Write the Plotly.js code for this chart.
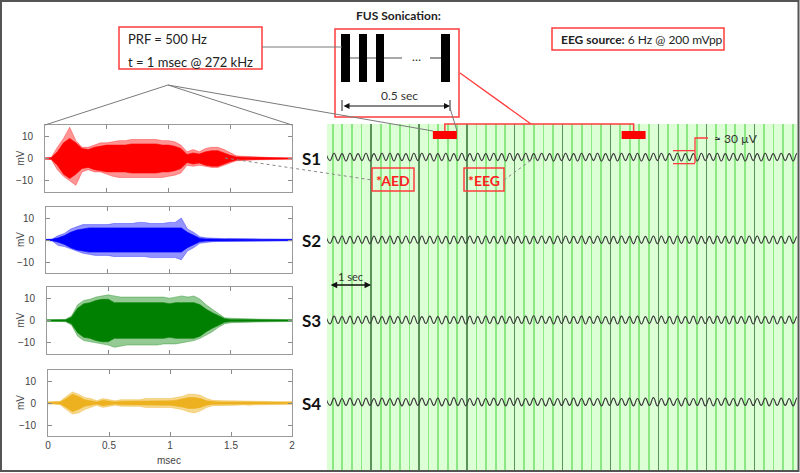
<!DOCTYPE html>
<html><head><meta charset="utf-8">
<script src="https://cdn.plot.ly/plotly-3.0.1.min.js"></script>
<style>html,body{margin:0;padding:0;background:#fff;}#chart{width:800px;height:473px;}</style>
</head><body><div id="chart"></div>
<script>
// ---------- DATA ----------
// left panels: time axis (msec) and read envelopes (mV)
const msecT = [0,0.05,0.1,0.15,0.2,0.25,0.3,0.35,0.4,0.45,0.5,0.55,0.6,0.65,0.7,0.75,0.8,0.85,0.9,0.95,1.0,1.05,1.1,1.15,1.2,1.25,1.3,1.35,1.4,1.45,1.5,1.55,1.6,1.65,1.7,1.75,1.8,1.85,1.9,1.95,2.0];
const msecTicks = [0,0.5,1,1.5,2];
const mvTicks = [-10,0,10];

const s1Hi = [0.3,0.5,5,9,14,8,5,5,6,7, 7,7.5,8,8,8.5,8.5,8.5,8.5,8.5,8, 8,7.5,6,3,4,3,4.5,5,5,4, 2.5,1.2,1,0.8,0.8,0.6,0.5,0.4,0.3,0.3,0.3];
const s1Lo = [-0.3,-0.4,-5,-8,-10,-12,-6,-5,-6,-6, -7,-8,-8.5,-8.5,-8.5,-8.5,-8.5,-8.5,-8.5,-8.5, -8,-7.5,-6.5,-3,-3.5,-3,-3.5,-4,-4,-3, -2,-1,-1,-0.8,-0.6,-0.5,-0.5,-0.4,-0.3,-0.3,-0.3];
const s1Core = [0.2,0.3,3,7,9,7,4.5,4,5,5.5, 6,6,6,6,6.5,6.5,6.5,6.5,6.5,6, 6,5.5,4.5,1.8,2.5,2,3,3.5,3.5,2.5, 1.4,0.7,0.6,0.5,0.5,0.4,0.3,0.3,0.2,0.2,0.2];

const s2Hi = [0.3,0.4,2,3,5,6,7,7,7,7, 7,7.5,7.5,7.5,7.5,8,8,7.5,7.5,7.5, 8,8,10,5,3.5,1.5,1,0.8,0.7,0.6, 0.7,0.6,0.5,0.6,0.5,0.5,0.5,0.4,0.4,0.4,0.4];
const s2Lo = [-0.3,-0.4,-2.5,-3,-4,-5,-6,-6.5,-7,-7, -7,-7.5,-7.5,-7.5,-7.5,-7.5,-7.5,-8,-8,-8, -8,-8,-9,-5,-3.5,-1.5,-1,-0.8,-0.7,-0.6, -0.7,-0.6,-0.5,-0.6,-0.5,-0.5,-0.5,-0.4,-0.4,-0.4,-0.4];
const s2Core = [0.2,0.3,1,2,3.5,4.5,5,5.5,5.5,5.5, 5.5,5.5,5.5,5.5,5.5,5.5,5.5,5.5,5.5,5.5, 5.5,5.5,5.5,3.5,2.2,0.8,0.5,0.4,0.4,0.3, 0.4,0.3,0.3,0.3,0.3,0.3,0.3,0.2,0.2,0.2,0.2];

const s3Hi = [0.4,0.4,0.5,0.5,2,7,9,9.5,10.5,11, 11.5,11,10.5,10.5,10.5,10.5,10.5,10.5,10.5,10.5, 10,10.5,11,10.5,11,9.5,7,5,3,1.2, 1,1,0.8,0.8,0.7,0.6,0.6,0.5,0.5,0.4,0.4];
const s3Lo = [-0.4,-0.4,-0.5,-0.5,-2,-7,-9,-9.5,-10,-10.5, -11,-12,-11.5,-11,-11,-11,-11,-11,-11,-10.5, -10.5,-10.5,-10,-9.5,-9,-8,-6.5,-5,-3,-1.5, -1,-1,-0.8,-0.8,-0.7,-0.6,-0.6,-0.5,-0.5,-0.4,-0.4];
const s3Core = [0.2,0.2,0.3,0.3,1.5,5.5,7.5,8,9,9.5, 9.5,8,8,8,8,8,8,8,8,8, 7.5,8,8,8,8,7,5,3.5,2,0.8, 0.5,0.5,0.4,0.4,0.4,0.3,0.3,0.3,0.3,0.2,0.2];

const s4Hi = [0.5,0.5,0.8,3,5,4,2.5,2,1,2, 1.5,1,1.5,1.5,1.5,1.5,2,2,2,2, 2,2.5,3,4,4,3.5,2,1.2,1,1, 1,1,0.8,1,0.8,0.7,0.7,0.6,0.6,0.6,0.6];
const s4Lo = [-0.5,-0.5,-0.8,-3,-5,-4.5,-3,-2,-1,-2, -1.5,-1,-1.5,-1.5,-1.5,-1.5,-2,-2,-2,-2, -2,-2.5,-3,-4,-4.5,-3.5,-2,-1.2,-1,-1, -1,-1,-0.8,-1,-0.8,-0.7,-0.7,-0.6,-0.6,-0.6,-0.6];
const s4Core = [0.3,0.3,0.5,2,4,3,1.5,1,0.5,1.2, 0.8,0.5,0.8,0.8,0.8,0.8,1,1,1,1, 1,1.3,1.8,2.5,2.5,2,1,0.6,0.5,0.5, 0.5,0.5,0.4,0.5,0.4,0.4,0.4,0.3,0.3,0.3,0.3];

// right panel: EEG extrema (µV), sampled every half cycle of the 6 Hz source
const eegRate = 12;          // extrema per second (6 Hz)
const eegStart = 0.06;       // s
const eegS1 = [8,-8,9,-8,8,-9,9,-8,8,-8,9,-9, 8,-8,9,-8,9,-9,8,-8,8,-9,9,-8, 9,-8,8,-9,8,-8,9,-9,8,-8,9,-8, 8,-9,9,-8,8,-8,9,-8,8,-9,9,-8, 8,-8,9,-9,8,-8,9,-8,8,-9,8,-8, 9,-8,8,-9,9,-8,8,-8,9,-9,8,-8, 8,-9,9,-8,8,-8,9,-9,8,-8,9,-8, 9,-8,8,-8,9,-9,8,-8,8,-9,9,-8, 8,-8,9,-9,8,-8,9,-8,8,-9,9,-8, 8,-9,9,-8,8,-8,9,-8,8,-9,9,-8];
const eegS2 = [9,-8,8,-8,9,-9,8,-8,9,-8,8,-9, 9,-8,8,-8,9,-9,8,-8,9,-8,8,-8, 9,-9,8,-8,9,-8,8,-9,9,-8,8,-8, 9,-8,8,-9,9,-8,8,-8,9,-9,8,-8, 8,-8,9,-9,8,-8,9,-8,8,-9,9,-8, 9,-8,8,-8,9,-9,8,-8,9,-8,8,-9, 8,-8,9,-8,8,-9,9,-8,8,-8,9,-9, 9,-8,8,-9,9,-8,8,-8,9,-9,8,-8, 8,-9,9,-8,8,-8,9,-9,8,-8,9,-8, 9,-8,8,-8,9,-9,8,-8,9,-8,8,-9];
const eegS3 = [8,-9,9,-8,8,-8,9,-9,8,-8,9,-8, 9,-8,8,-9,9,-8,8,-8,9,-9,10,-8, 8,-8,9,-8,8,-9,9,-8,8,-8,9,-9, 9,-9,8,-8,9,-8,8,-9,9,-8,8,-8, 8,-8,9,-9,10,-8,9,-8,8,-9,9,-8, 9,-8,8,-8,9,-9,8,-8,9,-8,8,-9, 8,-9,9,-8,8,-8,9,-9,8,-8,9,-8, 9,-8,8,-9,9,-8,8,-8,9,-9,8,-8, 8,-8,9,-8,8,-9,9,-8,8,-8,9,-9, 9,-8,8,-8,9,-9,8,-8,9,-8,8,-9];
const eegS4 = [8,-8,9,-9,8,-8,9,-8,8,-9,9,-8, 8,-9,9,-8,8,-8,9,-9,8,-8,9,-8, 9,-8,8,-8,9,-9,8,-8,10,-8,8,-9, 8,-8,9,-9,8,-8,9,-8,8,-9,9,-8, 9,-9,8,-8,9,-8,8,-9,9,-8,8,-8, 8,-8,9,-9,8,-8,9,-8,8,-9,9,-8, 9,-8,8,-8,9,-9,8,-8,9,-8,10,-9, 8,-8,9,-8,8,-9,9,-8,8,-8,9,-9, 9,-9,8,-8,9,-8,8,-9,9,-8,8,-8, 8,-8,9,-9,8,-8,9,-8,8,-9,9,-8];
const channelNames = ['S1','S2','S3','S4'];
const sonicationStart = [2.29, 6.23];  // s
const sonicationDur = 0.5;             // s
const markerUV = 30;

// ---------- LAYOUT HELPERS ----------
const W = 800, H = 473;
const X = p => p / W, Y = p => 1 - p / H;
const chOffset = [722, 531, 346, 157];   // µV baseline of each channel
const panelColors = ['#ff0000', '#0000ff', '#008000', '#EDB120'];
const panelFill = ['rgba(255,0,0,0.42)', 'rgba(0,0,255,0.42)', 'rgba(0,128,0,0.42)', 'rgba(237,177,32,0.5)'];
const his = [s1Hi, s2Hi, s3Hi, s4Hi], los = [s1Lo, s2Lo, s3Lo, s4Lo], cores = [s1Core, s2Core, s3Core, s4Core];
const pxDom = [[45,292,125,192],[46,292,207,273],[47,292,287,354],[48,292,370,436]];

const traces = [];
for (let i = 0; i < 4; i++) {
  const ax = i === 0 ? '' : String(i + 1);
  const revT = msecT.slice().reverse();
  traces.push({
    x: msecT.concat(revT), y: his[i].concat(los[i].slice().reverse()),
    xaxis: 'x' + ax, yaxis: 'y' + ax, type: 'scatter', mode: 'lines', fill: 'toself',
    fillcolor: panelFill[i], line: {color: panelFill[i], width: 0.8}, hoverinfo: 'skip'
  });
  traces.push({
    x: msecT.concat(revT), y: cores[i].concat(cores[i].map(v => -v).reverse()),
    xaxis: 'x' + ax, yaxis: 'y' + ax, type: 'scatter', mode: 'lines', fill: 'toself',
    fillcolor: panelColors[i], line: {color: panelColors[i], width: 0.6}, hoverinfo: 'skip'
  });
}
const eegs = [eegS1, eegS2, eegS3, eegS4];
eegs.forEach((arr, i) => {
  traces.push({
    x: arr.map((_, k) => eegStart + k / eegRate), y: arr.map(v => chOffset[i] + v),
    xaxis: 'x5', yaxis: 'y5', type: 'scatter', mode: 'lines',
    line: {color: '#3a3a3a', width: 1.15, shape: 'spline', smoothing: 1.3}, hoverinfo: 'skip'
  });
});

const tickFont = {family: 'Liberation Sans, Arial, sans-serif', size: 10, color: '#444'};
const layout = {
  width: W, height: H, margin: {l: 0, r: 0, t: 0, b: 0},
  paper_bgcolor: '#fff', plot_bgcolor: 'rgba(0,0,0,0)', showlegend: false,
  font: {family: 'Lato, sans-serif', color: '#222'},
  shapes: [], annotations: []
};
for (let i = 0; i < 4; i++) {
  const ax = i === 0 ? '' : String(i + 1);
  const d = pxDom[i];
  layout['xaxis' + ax] = {
    domain: [X(d[0]), X(d[1])], range: [0, 2], tickvals: msecTicks, ticktext: ['0','0.5','1','1.5','2'],
    ticks: 'inside', ticklen: 4, tickcolor: '#8a8a8a', showline: true, linecolor: '#9a9a9a', linewidth: 1,
    mirror: 'ticks', showgrid: false, zeroline: false, showticklabels: i === 3, tickfont: tickFont,
    anchor: 'y' + ax, fixedrange: true
  };
  layout['yaxis' + ax] = {
    domain: [Y(d[3]), Y(d[2])], range: [-15, 15], tickvals: mvTicks,
    ticks: 'inside', ticklen: 4, tickcolor: '#8a8a8a', showline: true, linecolor: '#9a9a9a', linewidth: 1,
    mirror: 'ticks', showgrid: false, zeroline: false, tickfont: tickFont, ticklabelstandoff: 9,
    anchor: 'x' + ax, fixedrange: true
  };
  layout.annotations.push({xref: 'paper', yref: 'paper', x: X(20), y: Y((d[2] + d[3]) / 2), text: 'mV',
    textangle: -90, showarrow: false, font: {family: 'Liberation Sans, Arial, sans-serif', size: 10, color: '#444'}});
  layout.annotations.push({xref: 'paper', yref: 'paper', x: X(311), y: Y([158, 240, 320, 403][i]), text: '<b>' + channelNames[i] + '</b>',
    showarrow: false, font: {family: 'Lato, sans-serif', size: 17, color: '#111'}});
}
layout.annotations.push({xref: 'paper', yref: 'paper', x: X(169), y: Y(460), text: 'msec', showarrow: false,
  font: {family: 'Liberation Sans, Arial, sans-serif', size: 10, color: '#444'}});

layout.xaxis5 = {domain: [X(327), X(797)], range: [0.08, 9.89], dtick: 1, tick0: 0, showgrid: true,
  gridcolor: 'rgb(90,150,90)', gridwidth: 1.2, showticklabels: false, ticks: '', zeroline: false, showline: false,
  minor: {dtick: 0.2, tick0: 0, showgrid: true, gridcolor: 'rgb(140,232,130)', gridwidth: 1.8},
  anchor: 'y5', fixedrange: true};
layout.yaxis5 = {domain: [Y(470), Y(124)], range: [0, 798.5], showgrid: false, showticklabels: false,
  ticks: '', zeroline: false, showline: false, anchor: 'x5', fixedrange: true};

const S = layout.shapes, A = layout.annotations;
const red = 'rgb(255,60,60)', gray = '#7a7a7a';
const line = (x0, y0, x1, y1, color, width, dash) => S.push({type: 'line', xref: 'paper', yref: 'paper',
  x0: X(x0), y0: Y(y0), x1: X(x1), y1: Y(y1), line: {color: color, width: width || 1, dash: dash || 'solid'}});
const rect = (x0, y0, x1, y1, color, fill, width) => S.push({type: 'rect', xref: 'paper', yref: 'paper',
  x0: X(x0), y0: Y(y0), x1: X(x1), y1: Y(y1), line: {color: color, width: width === undefined ? 1.5 : width}, fillcolor: fill || 'rgba(0,0,0,0)'});

// green background of EEG panel
S.push({type: 'rect', xref: 'x5 domain', yref: 'y5 domain', x0: 0, x1: 1, y0: 0, y1: 1, layer: 'below',
  fillcolor: 'rgb(220,255,214)', line: {width: 0}});

// sonication windows and bracket
sonicationStart.forEach(s => S.push({type: 'rect', xref: 'x5', yref: 'paper', x0: s, x1: s + sonicationDur,
  y0: Y(139), y1: Y(131), fillcolor: '#ff0000', line: {width: 0}}));
const c0 = sonicationStart[0] + sonicationDur / 2, c1 = sonicationStart[1] + sonicationDur / 2;
S.push({type: 'path', xref: 'x5', yref: 'paper',
  path: `M ${c0} ${Y(131)} L ${c0} ${Y(124)} L ${c1} ${Y(124)} L ${c1} ${Y(131)}`, line: {color: red, width: 1.5}});

// 30 µV marker around S1
const mTop = chOffset[0] + markerUV / 2, mBot = chOffset[0] - markerUV / 2;
[[673, mTop, 695, mTop], [673, mBot, 695, mBot]].forEach(s => S.push({type: 'line', xref: 'paper', yref: 'y5',
  x0: X(s[0]), y0: s[1], x1: X(s[2]), y1: s[3], line: {color: red, width: 1.3}}));
S.push({type: 'path', xref: 'paper', yref: 'paper',
  path: `M ${X(695)} ${Y(163)} L ${X(695)} ${Y(138)} L ${X(708)} ${Y(138)}`, line: {color: red, width: 1.3}});
A.push({xref: 'paper', yref: 'paper', x: X(712), y: Y(138), xanchor: 'left', text: '≈ 30 µV', showarrow: false,
  font: {family: 'Lato, sans-serif', size: 12, color: '#333'}});

// outer border
rect(1, 1, 798.5, 471, '#555', null, 2);

// PRF box
rect(119, 27, 262, 69, red);
A.push({xref: 'paper', yref: 'paper', x: X(126), y: Y(39), xanchor: 'left', text: 'PRF = 500 Hz', showarrow: false,
  font: {family: 'Lato, sans-serif', size: 13, color: '#222'}});
A.push({xref: 'paper', yref: 'paper', x: X(126), y: Y(62), xanchor: 'left', text: 't = 1 msec @ 272 kHz', showarrow: false,
  font: {family: 'Lato, sans-serif', size: 13, color: '#222'}});

// FUS sonication schematic
A.push({xref: 'paper', yref: 'paper', x: X(398), y: Y(15), text: '<b>FUS Sonication:</b>', showarrow: false,
  font: {family: 'Lato, sans-serif', size: 12, color: '#222'}});
rect(335, 29, 459, 117, red);
line(350, 58, 402, 58, '#555', 1.2);
line(430, 58, 441, 58, '#555', 1.2);
[[341, 350], [359, 367], [376, 384], [441, 450]].forEach(b => rect(b[0], 34, b[1], 82, '#000', '#000', 0));
A.push({xref: 'paper', yref: 'paper', x: X(416), y: Y(56), text: '…', showarrow: false,
  font: {family: 'Lato, sans-serif', size: 12, color: '#222'}});
A.push({xref: 'paper', yref: 'paper', x: X(399), y: Y(95), text: '0.5 sec', showarrow: false,
  font: {family: 'Lato, sans-serif', size: 12, color: '#333'}});
line(342, 100, 342, 111, '#222', 1);
line(450, 100, 450, 111, '#222', 1);
A.push({xref: 'paper', yref: 'paper', x: X(450), y: Y(106), ax: -108, ay: 0, text: '', showarrow: true,
  arrowhead: 2, arrowside: 'end+start', arrowsize: 1, arrowwidth: 1.2, arrowcolor: '#111'});

// EEG source box
rect(552, 28, 724, 50, red);
A.push({xref: 'paper', yref: 'paper', x: X(559), y: Y(39), xanchor: 'left', text: '<b>EEG source:</b> 6 Hz @ 200 mVpp',
  showarrow: false, font: {family: 'Lato, sans-serif', size: 12, color: '#222'}});

// connector lines
line(262, 47, 342, 47, gray, 1);
line(168, 85, 45, 125, gray, 1);
line(168, 85, 292, 125, gray, 1);
line(168, 85, 433, 131, gray, 1);
line(450, 108, 457, 131, gray, 1);
line(460, 73, 531, 124, red, 1.3);

// AED / EEG labels
rect(372, 168, 414, 191, red);
rect(464, 168, 504, 191, red);
A.push({xref: 'paper', yref: 'paper', x: X(393), y: Y(180), text: '<b>*AED</b>', showarrow: false,
  font: {family: 'Lato, sans-serif', size: 14, color: '#ff2020'}});
A.push({xref: 'paper', yref: 'paper', x: X(484), y: Y(180), text: '<b>*EEG</b>', showarrow: false,
  font: {family: 'Lato, sans-serif', size: 14, color: '#ff2020'}});
line(225, 158, 372, 180, '#888', 1, 'dot');
line(504, 180, 537, 156, '#888', 1, 'dot');

// 1 sec scale arrow
A.push({xref: 'x5', yref: 'paper', x: 1.0, y: Y(285), axref: 'x5', ax: 0.125, ayref: 'pixel', ay: 0, text: '',
  showarrow: true, arrowhead: 2, arrowside: 'end+start', arrowsize: 1, arrowwidth: 1.3, arrowcolor: '#111'});
A.push({xref: 'paper', yref: 'paper', x: X(350), y: Y(276), text: '1 sec', showarrow: false,
  font: {family: 'Lato, sans-serif', size: 11, color: '#333'}});

// explicit anchors (paper 'auto' anchoring would shift texts)
A.forEach(a => { if (!a.xanchor) a.xanchor = 'center'; if (!a.yanchor) a.yanchor = 'middle'; });

Plotly.newPlot('chart', traces, layout, {displayModeBar: false, staticPlot: true});
</script></body></html>
